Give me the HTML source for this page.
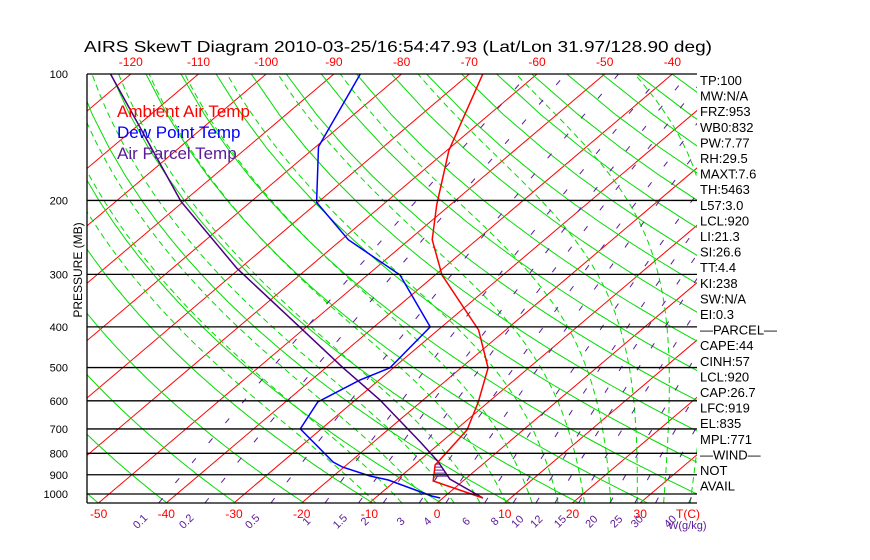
<!DOCTYPE html>
<html><head><meta charset="utf-8"><style>
html,body{margin:0;padding:0;background:#fff;}
svg{display:block;font-family:"Liberation Sans",sans-serif;}
</style></head><body>
<svg id="chart" width="870" height="560" viewBox="0 0 870 560" xmlns="http://www.w3.org/2000/svg">
<defs><clipPath id="plotclip"><rect x="87" y="74" width="610" height="429"/></clipPath></defs>
<text x="84" y="52" font-size="16" textLength="628" lengthAdjust="spacingAndGlyphs">AIRS SkewT Diagram 2010-03-25/16:54:47.93 (Lat/Lon 31.97/128.90 deg)</text>
<g id="grid" clip-path="url(#plotclip)"></g>
<g id="series" clip-path="url(#plotclip)"></g>
<g id="axes"></g>
<g font-size="17">
<text x="117" y="117" fill="#ff0000">Ambient Air Temp</text>
<text x="117" y="138" fill="#0000ff">Dew Point Temp</text>
<text x="117" y="159" fill="#5a1a9a">Air Parcel Temp</text>
</g>
<text x="0" y="0" font-size="12" transform="translate(82,270) rotate(-90)" text-anchor="middle">PRESSURE (MB)</text>
<g id="stats" font-size="13"></g>
</svg>
<script>
// ---- data ----
const pressureLevels = [100,200,300,400,500,600,700,800,900,1000];
const topTempTicks = [-120,-110,-100,-90,-80,-70,-60,-50,-40];
const bottomTempTicks = [-50,-40,-30,-20,-10,0,10,20,30];
const mixingRatios = [0.1,0.2,0.5,1,1.5,2,3,4,6,8,10,12,15,20,25,30,40];
const mixingLabels = ["0.1","0.2","0.5","1","1.5","2","3","4","6","8","10","12","15","20","25","30","40"];
const tempP = [1022,931,853,839,704,604,501,407,301,248,205,152,100];
const tempT = [5.9,-4.4,-6.9,-7.0,-8.3,-11.5,-16,-24,-39,-46.6,-52,-59.7,-68];
const dewP = [1022,1011,926,906,863,839,700,604,535,501,400,301,248,202,149,100];
const dewT = [-0.4,-2,-11.2,-14.6,-20.2,-22.5,-33.1,-35.2,-32.8,-30.5,-31.7,-45.2,-59,-70.2,-79.6,-86.1];
const parcelP = [1022,921,835,752,597,501,402,290,201,100];
const parcelT = [5.9,-2.3,-7.2,-13.1,-26.4,-37.4,-50.7,-70.5,-90.4,-123];
const statLines = ["TP:100","MW:N/A","FRZ:953","WB0:832","PW:7.77","RH:29.5","MAXT:7.6","TH:5463","L57:3.0","LCL:920","LI:21.3","SI:26.6","TT:4.4","KI:238","SW:N/A","EI:0.3","\u2014PARCEL\u2014","CAPE:44","CINH:57","LCL:920","CAP:26.7","LFC:919","EL:835","MPL:771","\u2014WIND\u2014","NOT","AVAIL"];

// ---- axes ----
const NS='http://www.w3.org/2000/svg';
const L=87,R=697,T=74,B=503;
function yOf(p){return 494+182.4*Math.log(p/1000);}
function xOf(t,p){const y=yOf(p);return 437+6.77*t+1.18*(503-y);}
function mk(tag,attrs,parent){const e=document.createElementNS(NS,tag);for(const k in attrs)e.setAttribute(k,attrs[k]);parent.appendChild(e);return e;}
function pts(arrP,arrT){return arrP.map((p,i)=>xOf(arrT[i],p).toFixed(1)+','+yOf(p).toFixed(1)).join(' ');}
const grid=document.getElementById('grid'),series=document.getElementById('series'),axes=document.getElementById('axes');

// isotherms
for(let t=-200;t<=50;t+=10){
  const e=mk('line',{x1:xOf(t,1050),y1:yOf(1050),x2:xOf(t,100),y2:yOf(100),stroke:'#ff0000','stroke-width':1},grid);
  
  
}
// dry adiabats
for(let th=180;th<=520;th+=10){
  const ps=[],ts=[];
  for(let p=1050;p>=100;p-=25){ps.push(p);ts.push(th*Math.pow(p/1000,0.2857)-273.15);}
  const e=mk('polyline',{points:pts(ps,ts),fill:'none',stroke:'#00dd00','stroke-width':1},grid);
  
  
}
// moist adiabats
function es(tc){return 6.112*Math.exp(17.67*tc/(tc+243.5));}
for(let t0=-12;t0<=44;t0+=4){
  let Tk=t0+273.15;const ps=[],ts=[];
  // integrate down to 1050 first
  let p=1000;
  let tk2=Tk;for(let q=1000;q<1050;q+=5){const rs=0.622*es(tk2-273.15)/(q-es(tk2-273.15));const d=(287*tk2+2.5e6*rs)/(q*(1004+2.5e6*2.5e6*rs*0.622/(287*tk2*tk2)));tk2+=d*5;}
  Tk=tk2;p=1050;
  while(p>=100){ps.push(p);ts.push(Tk-273.15);const rs=0.622*es(Tk-273.15)/(p-es(Tk-273.15));const d=(287*Tk+2.5e6*rs)/(p*(1004+2.5e6*2.5e6*rs*0.622/(287*Tk*Tk)));Tk-=d*5;p-=5;}
  const e=mk('polyline',{points:pts(ps,ts),fill:'none',stroke:'#00dd00','stroke-width':1,'stroke-dasharray':'6 4'},grid);
  
  
}
// mixing ratio lines
function tdOf(w,p){const e=w*p/(622+w);const l=Math.log(e/6.112);return 243.5*l/(17.67-l);}
mixingRatios.forEach((w,i)=>{
  const ps=[],ts=[];
  for(let p=1050;p>=100;p-=25){ps.push(p);ts.push(tdOf(w,p));}
  const e=mk('polyline',{points:pts(ps,ts),fill:'none',stroke:'#5a1a9a','stroke-width':1,'stroke-dasharray':'6 20'},grid);
  
  
  const x=xOf(tdOf(w,1050),1050)-16;
  const tx=mk('text',{x:x,y:524,'font-size':11,fill:'#5a1a9a','text-anchor':'middle',transform:`rotate(-45 ${x} 524)`},axes);
  tx.textContent=mixingLabels[i];
  
  
});
// pressure lines and labels
pressureLevels.forEach(p=>{
  const y=yOf(p);
  const e=mk('line',{x1:L,y1:y,x2:R,y2:y,stroke:'#000','stroke-width':1.3},axes);
  
  
  const t=mk('text',{x:68,y:y+4,'font-size':11,'text-anchor':'end'},axes);
  t.textContent=p;
  
  
});
const bl=mk('line',{x1:L,y1:B,x2:R,y2:B,stroke:'#000','stroke-width':1.3},axes);


const ll=mk('line',{x1:L,y1:T,x2:L,y2:B,stroke:'#000','stroke-width':1.3},axes);


topTempTicks.forEach(t=>{
  const tx=mk('text',{x:xOf(t,100),y:66,'font-size':12,fill:'#ff0000','text-anchor':'middle'},axes);
  tx.textContent=t;
  
  
});
bottomTempTicks.forEach(t=>{
  const tx=mk('text',{x:xOf(t,1050),y:518,'font-size':12,fill:'#ff0000','text-anchor':'middle'},axes);
  tx.textContent=t;
  
  
});
const tc=mk('text',{x:688,y:518,'font-size':12,fill:'#ff0000','text-anchor':'middle'},axes);
tc.textContent='T(C)';


const wu=mk('text',{x:668,y:529,'font-size':11,fill:'#5a1a9a'},axes);
wu.textContent='W(g/kg)';



// series
const hatchTop=835,hatchBot=921;
for(let y=yOf(hatchTop)+3;y<yOf(hatchBot);y+=3){
  const x1=435;
  // parcel x at this y by interpolation
  let xp=x1;
  for(let i=0;i<parcelP.length-1;i++){const ya=yOf(parcelP[i]),yb=yOf(parcelP[i+1]);if(y<=ya&&y>=yb){const f=(y-ya)/(yb-ya);xp=xOf(parcelT[i],parcelP[i])+f*(xOf(parcelT[i+1],parcelP[i+1])-xOf(parcelT[i],parcelP[i]));}}
  const h=mk('line',{x1:x1,y1:y,x2:xp,y2:y,stroke:'#5a1a9a','stroke-width':1},series);
  
  
}
const sd=mk('polyline',{points:pts(dewP,dewT),fill:'none',stroke:'#0000ff','stroke-width':1.5},series);


const sp=mk('polyline',{points:pts(parcelP,parcelT),fill:'none',stroke:'#4b0082','stroke-width':1.5},series);


const st=mk('polyline',{points:pts(tempP,tempT),fill:'none',stroke:'#ff0000','stroke-width':1.5},series);



// stats
const stats=document.getElementById('stats');
statLines.forEach((s,i)=>{
  const tx=mk('text',{x:700,y:85+i*15.6,'font-size':13},stats);
  tx.textContent=s;
  
  
});
</script>
</body></html>
